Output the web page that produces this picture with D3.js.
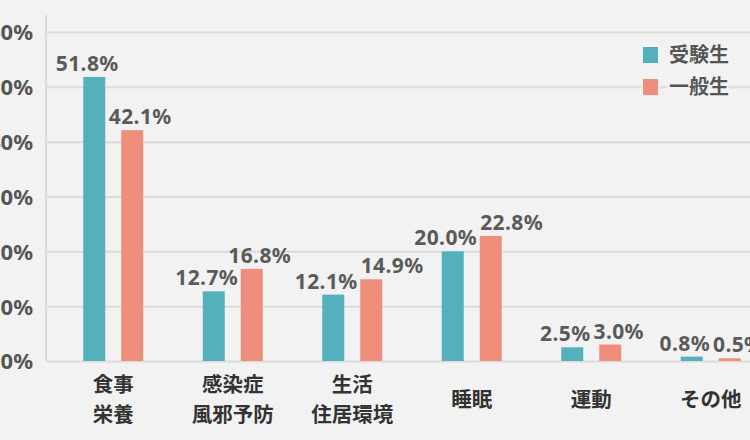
<!DOCTYPE html>
<html><head><meta charset="utf-8">
<script src="https://cdn.jsdelivr.net/npm/d3@7"></script>
<style>
html,body{margin:0;padding:0;background:#f2f2f2;overflow:hidden;}
svg{display:block;font-family:"Noto Sans CJK JP","Noto Sans",sans-serif;}
</style></head>
<body><svg id="chart" width="750" height="440"></svg>
<script>
const categories = ["食事\n栄養", "感染症\n風邪予防", "生活\n住居環境", "睡眠", "運動", "その他"];
const seriesNames = ["受験生", "一般生"];
const examinees = [51.8, 12.7, 12.1, 20.0, 2.5, 0.8];
const general = [42.1, 16.8, 14.9, 22.8, 3.0, 0.5];
const yTicks = [0, 10, 20, 30, 40, 50, 60];

const colors = ["#55b0be", "#ee8e7b"];
const numFont = "'Noto Sans','Open Sans',sans-serif";
const W = 750, H = 440;
const axisX = 46;
const valFs = 21;
const svg = d3.select("#chart");
svg.append("rect").attr("width", W).attr("height", H).attr("fill", "#f2f2f2");

const x = d3.scaleBand().domain(categories).range([53.5, 770.5]).padding(0);
const x1 = d3.scaleBand().domain(seriesNames)
  .range([x.bandwidth() / 2 - 30, x.bandwidth() / 2 + 30]).paddingInner(0.421).paddingOuter(0);
const y = d3.scaleLinear().domain([0, 60]).range([361, 32]);

// axis + gridlines
const yAxis = d3.axisLeft(y).tickValues(yTicks).tickFormat(d => d + "%")
  .tickSizeInner(-(W - axisX)).tickSizeOuter(0).tickPadding(13);
const gy = svg.append("g").attr("transform", `translate(${axisX},0)`).call(yAxis);
gy.select(".domain").remove();
gy.selectAll(".tick line").attr("stroke", "#dcdcdc").attr("stroke-width", 2);
gy.selectAll(".tick text").attr("fill", "#555").attr("font-size", 22).attr("font-weight", "bold")
  .attr("font-family", numFont).attr("dy", "0.36em");
svg.append("line").attr("x1", axisX).attr("x2", axisX).attr("y1", 15).attr("y2", y(0))
  .attr("stroke", "#dcdcdc").attr("stroke-width", 2);

// bars
const data = categories.map((c, i) => ({ cat: c, vals: [examinees[i], general[i]] }));
const groups = svg.append("g").selectAll("g").data(data).join("g")
  .attr("transform", d => `translate(${x(d.cat)},0)`);
const labelShift = [-7, 8];
groups.selectAll("rect").data(d => d.vals.map((v, j) => ({ v, j })))
  .join("rect")
  .attr("x", d => x1(seriesNames[d.j]))
  .attr("width", x1.bandwidth())
  .attr("y", d => y(d.v))
  .attr("height", d => y(0) - y(d.v))
  .attr("fill", d => colors[d.j]);
groups.selectAll("text.val").data(d => d.vals.map((v, j) => ({ v, j })))
  .join("text").attr("class", "val")
  .attr("x", d => x1(seriesNames[d.j]) + x1.bandwidth() / 2 + labelShift[d.j])
  .attr("y", d => y(d.v) - 6)
  .attr("text-anchor", "middle")
  .attr("font-size", valFs).attr("font-weight", "bold").attr("fill", "#5a5a5a")
  .attr("letter-spacing", 0.4)
  .attr("font-family", numFont)
  .text(d => d.v.toFixed(1) + "%");

// nudge value labels apart when their glyphs would collide
groups.each(function () {
  const labs = d3.select(this).selectAll("text.val").nodes();
  const ya = +labs[0].getAttribute("y"), yb = +labs[1].getAttribute("y");
  if (Math.abs(ya - yb) < valFs * 0.72 + 2) {
    const a = labs[0].getBBox(), b = labs[1].getBBox();
    if (b.x < a.x + a.width + 3) {
      const shift = a.x + a.width + 3 - b.x;
      labs[1].setAttribute("x", +labs[1].getAttribute("x") + shift);
    }
  }
});

// category labels
groups.each(function (d) {
  const lines = d.cat.split("\n");
  const t = d3.select(this).append("text")
    .attr("text-anchor", "middle").attr("font-size", 20.5).attr("font-weight", "bold").attr("fill", "#333");
  const cy = 400 - (lines.length - 1) * 15;
  lines.forEach((ln, k) => {
    t.append("tspan").attr("x", x.bandwidth() / 2).attr("y", cy + k * 30).attr("dy", "0.35em").text(ln);
  });
});

// legend
const lg = svg.append("g");
seriesNames.forEach((s, i) => {
  const yy = 55 + i * 32;
  lg.append("rect").attr("x", 643).attr("y", yy - 8).attr("width", 15).attr("height", 16)
    .attr("fill", colors[i]).attr("stroke", "#f2f2f2").attr("stroke-width", 3).attr("paint-order", "stroke");
  lg.append("text").attr("x", 669).attr("y", yy).attr("dy", "0.35em")
    .attr("font-size", 20).attr("font-weight", "bold").attr("fill", "#555")
    .attr("stroke", "#f2f2f2").attr("stroke-width", 4).attr("paint-order", "stroke")
    .text(s);
});
</script></body></html>
